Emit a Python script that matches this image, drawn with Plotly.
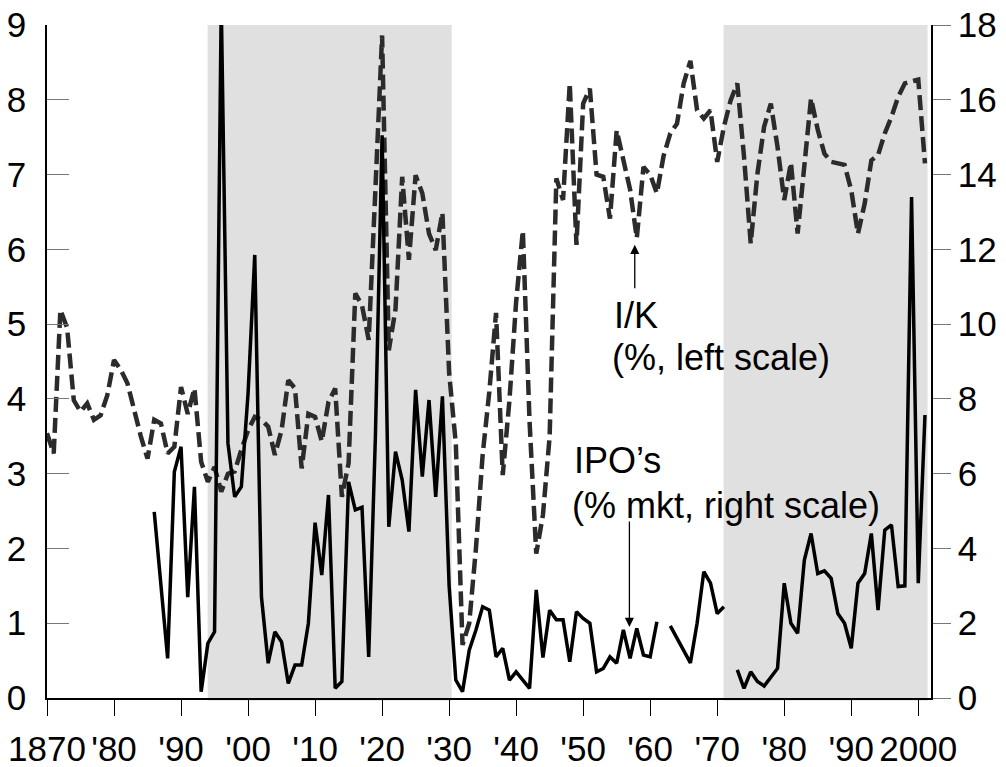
import plotly.graph_objects as go

years_ik = list(range(1870, 2002))
ik_values = [
    3.54, 3.27, 5.19, 4.95, 3.98, 3.83, 3.94, 3.72, 3.78, 4.05,   # 1870-79
    4.52, 4.39, 4.21, 3.85, 3.50, 3.20, 3.72, 3.67, 3.27, 3.36,   # 1880-89
    4.16, 3.80, 4.14, 3.16, 2.89, 3.09, 2.76, 3.00, 3.03, 3.32,   # 1890-99
    3.58, 3.76, 3.72, 3.63, 3.25, 3.58, 4.25, 4.14, 3.07, 3.80,   # 1900-09
    3.76, 3.43, 3.96, 4.14, 2.69, 3.14, 5.41, 5.25, 4.79, 6.80,   # 1910-19
    8.86, 4.65, 5.20, 6.97, 5.86, 6.99, 6.75, 6.21, 5.99, 6.49,   # 1920-29
    4.35, 3.40, 0.71, 1.00, 2.00, 3.25, 4.10, 5.15, 2.98, 3.98,   # 1930-39
    5.30, 6.25, 3.70, 1.93, 2.45, 3.50, 6.95, 6.66, 8.22, 6.06,   # 1940-49
    7.95, 8.15, 7.00, 6.97, 6.41, 7.59, 7.20, 6.80, 6.15, 7.10,   # 1950-59
    7.00, 6.75, 7.25, 7.55, 7.68, 8.22, 8.52, 7.86, 7.75, 7.86,   # 1960-69
    7.17, 7.64, 7.99, 8.22, 7.24, 6.08, 7.01, 7.64, 7.95, 7.37,   # 1970-79
    6.66, 7.16, 6.21, 7.15, 8.02, 7.60, 7.28, 7.17, 7.15, 7.13,   # 1980-89
    6.79, 6.21, 6.61, 7.19, 7.26, 7.55, 7.77, 8.04, 8.22, 8.24,   # 1990-99
    8.27, 7.15,                                                   # 2000-01
]

years_ipo = list(range(1886, 2002))
ipo_values = [
    4.98, 3.00, 1.06, 6.05,                                       # 1886-89
    6.72, 2.70, 5.65, 0.17, 1.46, 1.77, 18.6, 6.81, 5.38, 5.65,   # 1890-99
    8.15, 11.85, 2.70, 0.93, 1.77, 1.50, 0.39, 0.88, 0.88, 2.00,  # 1900-09
    4.69, 3.29, 5.43, 0.26, 0.44, 5.78, 5.03, 5.10, 1.10, 7.00,   # 1910-19
    15.05, 4.58, 6.59, 5.83, 4.45, 8.24, 5.92, 7.97, 5.38, 8.07,  # 1920-29
    3.00, 0.48, 0.17, 1.28, 1.82, 2.44, 2.35, 1.10, 1.33, 0.48,   # 1930-39
    0.70, 0.48, 0.26, 2.89, 1.08, 2.35, 2.09, 2.09, 0.97, 2.31,   # 1940-49
    2.13, 2.00, 0.70, 0.79, 1.10, 0.93, 1.82, 1.06, 1.86, 1.15,   # 1950-59
    1.10, 2.04, None, 1.93, 1.60, 1.27, 0.94, 2.00, 3.38, 3.07,   # 1960-69
    2.26, 2.44, None, 0.75, 0.26, 0.70, 0.44, 0.32, 0.57, 0.79,   # 1970-79
    3.07, 2.00, 1.73, 3.69, 4.40, 3.33, 3.40, 3.20, 2.26, 2.00,   # 1980-89
    1.33, 3.07, 3.33, 4.40, 2.35, 4.49, 4.63, 2.98, 3.00, 13.40,  # 1990-99
    3.07, 7.57,                                                   # 2000-01
]

shade_periods = [(1893.97, 1930.38), (1970.95, 2001.38)]
x_tickvals = list(range(1870, 2001, 10))
x_ticktext = ["1870", "'80", "'90", "'00", "'10", "'20", "'30", "'40",
              "'50", "'60", "'70", "'80", "'90", "2000"]

FONT = "Liberation Sans, Arial, sans-serif"

fig = go.Figure()
fig.add_trace(go.Scatter(
    x=years_ik, y=ik_values, mode="lines", yaxis="y",
    line=dict(color="#2b2b2b", width=4.5, dash="15px,6px"),
    showlegend=False, hoverinfo="skip"))
fig.add_trace(go.Scatter(
    x=years_ipo, y=ipo_values, mode="lines", yaxis="y2",
    line=dict(color="black", width=3.5), connectgaps=False,
    showlegend=False, hoverinfo="skip"))

for x0, x1 in shade_periods:
    fig.add_shape(type="rect", xref="x", yref="paper", x0=x0, x1=x1,
                  y0=-0.004, y1=1, fillcolor="#e0e0e0", line_width=0,
                  layer="below")

# text labels
fig.add_annotation(x=1954.25, y=5.12, xref="x", yref="y", text="I/K",
                   showarrow=False, xanchor="left", yanchor="middle",
                   font=dict(size=36, color="black", family=FONT))
fig.add_annotation(x=1953.95, y=4.55, xref="x", yref="y", text="(%, left scale)",
                   showarrow=False, xanchor="left", yanchor="middle",
                   font=dict(size=36, color="black", family=FONT))
fig.add_annotation(x=1948.3, y=3.18, xref="x", yref="y", text="IPO’s",
                   showarrow=False, xanchor="left", yanchor="middle",
                   font=dict(size=36, color="black", family=FONT))
fig.add_annotation(x=1948.0, y=2.57, xref="x", yref="y", text="(% mkt, right scale)",
                   showarrow=False, xanchor="left", yanchor="middle",
                   font=dict(size=36, color="black", family=FONT))
# arrows
fig.add_annotation(x=1957.7, y=6.06, xref="x", yref="y", text="",
                   showarrow=True, ax=0, ay=45, arrowhead=2, arrowsize=1.4,
                   arrowwidth=1.3, arrowcolor="black")
fig.add_annotation(x=1956.9, y=0.95, xref="x", yref="y", text="",
                   showarrow=True, ax=0, ay=-107, arrowhead=2, arrowsize=1.4,
                   arrowwidth=1.3, arrowcolor="black")

fig.update_layout(
    width=1006, height=767,
    margin=dict(l=47, r=75, t=25, b=69),
    paper_bgcolor="white", plot_bgcolor="white",
    font=dict(family=FONT, size=34, color="black"),
    xaxis=dict(range=[1870, 2001.9], tickvals=x_tickvals, ticktext=x_ticktext,
               showgrid=False, zeroline=False, showline=True, linecolor="black",
               linewidth=1.5, ticks="outside", ticklen=16, tickcolor="black",
               tickwidth=1, tickfont=dict(size=35), ticklabelstandoff=3,
               automargin=False),
    yaxis=dict(range=[0, 9], dtick=1, showgrid=False, zeroline=False,
               showline=True, linecolor="black", linewidth=1.5,
               ticks="inside", ticklen=22, tickcolor="#777777", tickwidth=1,
               tickfont=dict(size=35), ticklabelstandoff=12, automargin=False),
    yaxis2=dict(range=[0, 18], dtick=2, overlaying="y", side="right",
                showgrid=False, zeroline=False, showline=True,
                linecolor="black", linewidth=1.5, ticks="outside", ticklen=18,
                tickcolor="#777777", tickwidth=1, tickfont=dict(size=35),
                automargin=False),
)

fig.write_html("out.html")
